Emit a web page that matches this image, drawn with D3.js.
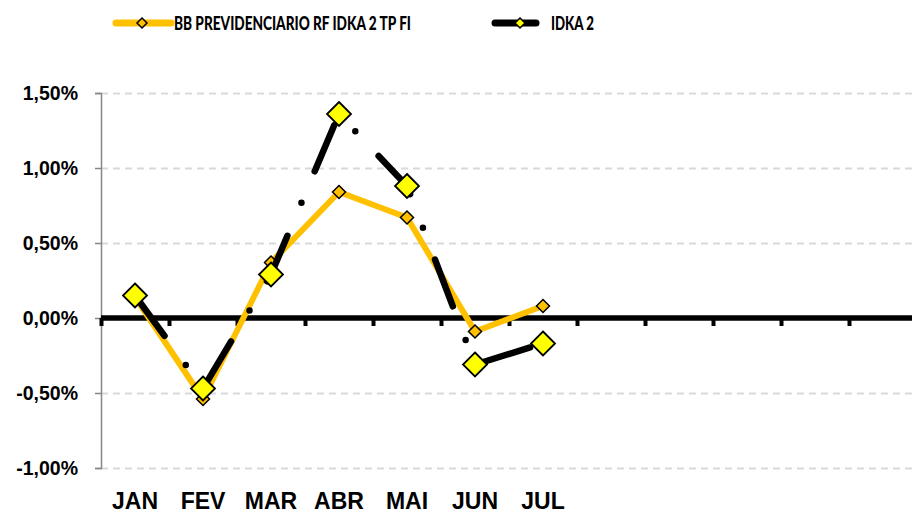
<!DOCTYPE html>
<html lang="pt">
<head>
    <meta charset="UTF-8">
    <title>BB Previdenciario RF IDKA 2 x IDKA 2</title>
    <script src="https://cdn.jsdelivr.net/npm/d3@7"></script>
    <style>
        body { margin: 0; background: #fff; }
        svg { display: block; font-family: Lato, "Open Sans", sans-serif; }
    </style>
</head>
<body>
<script>

    // DATA (monthly return, in %)
    const months = ["JAN", "FEV", "MAR", "ABR", "MAI", "JUN", "JUL"]
    const slots = 12   // the category axis keeps room for the whole year
    const fundName = "BB PREVIDENCIARIO RF IDKA 2 TP FI"
    const indexName = "IDKA 2"
    const fundValues = [0.14, -0.54, 0.37, 0.84, 0.67, -0.09, 0.08]
    const indexValues = [0.15, -0.47, 0.29, 1.36, 0.88, -0.31, -0.17]
    const yTicks = [-1.0, -0.5, 0.0, 0.5, 1.0, 1.5]

    const W = 912, H = 514
    const plotLeft = 101, plotRight = 917, plotTop = 93, plotBottom = 468

    let svg = d3.select("body").append("svg")
        .attr("width", W).attr("height", H)

    // SCALES
    let x = d3.scaleBand().domain(d3.range(slots)).range([plotLeft, plotRight])
    let xEdge = d3.scaleLinear().domain([0, slots]).range([plotLeft, plotRight])
    let y = d3.scaleLinear().domain([-1, 1.5]).range([plotBottom, plotTop])

    const br = d3.formatLocale({decimal: ",", thousands: ".", grouping: [3], currency: ["R$", ""], minus: "-"})
    const pct = d => br.format(".2f")(d) + "%"

    // GRID LINES
    svg.append("g")
        .attr("transform", `translate(${plotLeft},0)`)
        .call(d3.axisLeft(y).tickValues(yTicks.filter(d => d !== 0)).tickSize(-(W - plotLeft)).tickFormat(""))
        .call(g => g.select(".domain").remove())
        .selectAll("line")
        .style("stroke", "#d9d9d9")
        .style("stroke-width", "2px")
        .style("stroke-dasharray", "7,5")

    // Y AXIS
    svg.append("g")
        .attr("transform", `translate(${plotLeft},0)`)
        .call(d3.axisLeft(y).tickValues(yTicks).tickSize(6).tickPadding(17).tickFormat(pct))
        .call(g => g.selectAll("path,line").style("stroke", "#868686").style("stroke-width", "1.5px"))
        .selectAll("text")
        .style("font-size", "19.5px").style("font-weight", "bold").style("fill", "#000")

    // X AXIS (ticks between categories, thick zero line)
    svg.append("g")
        .attr("transform", `translate(0,${y(0)})`)
        .call(d3.axisBottom(xEdge).tickValues(d3.range(slots + 1)).tickSize(8).tickSizeOuter(0).tickFormat(""))
        .call(g => g.select(".domain").remove())
        .selectAll("line")
        .style("stroke", "#000").style("stroke-width", "4px")

    svg.append("line")
        .attr("x1", plotLeft).attr("x2", W)
        .attr("y1", y(0)).attr("y2", y(0))
        .style("stroke", "#000").style("stroke-width", "5.5px")

    // MONTH LABELS
    svg.append("g")
        .attr("transform", `translate(0,${plotBottom})`)
        .call(d3.axisBottom(x).tickSize(0).tickPadding(25).tickFormat(i => months[i] || ""))
        .call(g => g.select(".domain").remove())
        .selectAll("text")
        .style("font-size", "23px").style("font-weight", "bold").style("fill", "#000")

    // LINES
    let line = d3.line()
        .x((d, i) => x(i) + x.bandwidth() / 2)
        .y(d => y(d))

    const diamond = (cx, cy, r) => `M${cx},${cy - r}L${cx + r},${cy}L${cx},${cy + r}L${cx - r},${cy}Z`

    svg.append("path")
        .datum(fundValues)
        .attr("d", line)
        .style("fill", "none")
        .style("stroke", "#ffc000")
        .style("stroke-width", "6px")
        .style("stroke-linejoin", "round")

    svg.append("g").selectAll("path")
        .data(fundValues)
        .join("path")
        .attr("d", (d, i) => diamond(x(i) + x.bandwidth() / 2, y(d), 6.5))
        .style("fill", "#ffc000")
        .style("stroke", "#000")
        .style("stroke-width", "1.5px")

    svg.append("path")
        .datum(indexValues)
        .attr("d", line)
        .style("fill", "none")
        .style("stroke", "#000")
        .style("stroke-width", "6.5px")
        .style("stroke-linecap", "round")
        .style("stroke-dasharray", "50,36,0,34")

    svg.append("g").selectAll("path")
        .data(indexValues)
        .join("path")
        .attr("d", (d, i) => diamond(x(i) + x.bandwidth() / 2, y(d), 12))
        .style("fill", "#ffff00")
        .style("stroke", "#000")
        .style("stroke-width", "1.8px")

    // LEGEND
    let legend = svg.append("g")

    legend.append("line").attr("x1", 116).attr("x2", 171).attr("y1", 23).attr("y2", 23)
        .style("stroke", "#ffc000").style("stroke-width", "7px").style("stroke-linecap", "round")
    legend.append("path").attr("d", diamond(142, 23, 5))
        .style("fill", "#ffc000").style("stroke", "#000").style("stroke-width", "1.5px")
    legend.append("text").attr("x", 174).attr("y", 29.5).text(fundName)
        .attr("textLength", 237).attr("lengthAdjust", "spacingAndGlyphs")
        .style("font-size", "19px").style("font-weight", "900")

    legend.append("line").attr("x1", 495).attr("x2", 536).attr("y1", 23).attr("y2", 23)
        .style("stroke", "#000").style("stroke-width", "7px").style("stroke-linecap", "round")
    legend.append("path").attr("d", diamond(520, 23, 5))
        .style("fill", "#ffff00").style("stroke", "#000").style("stroke-width", "1.5px")
    legend.append("text").attr("x", 551).attr("y", 29.5).text(indexName)
        .attr("textLength", 43).attr("lengthAdjust", "spacingAndGlyphs")
        .style("font-size", "19px").style("font-weight", "900")

</script>
</body>
</html>
